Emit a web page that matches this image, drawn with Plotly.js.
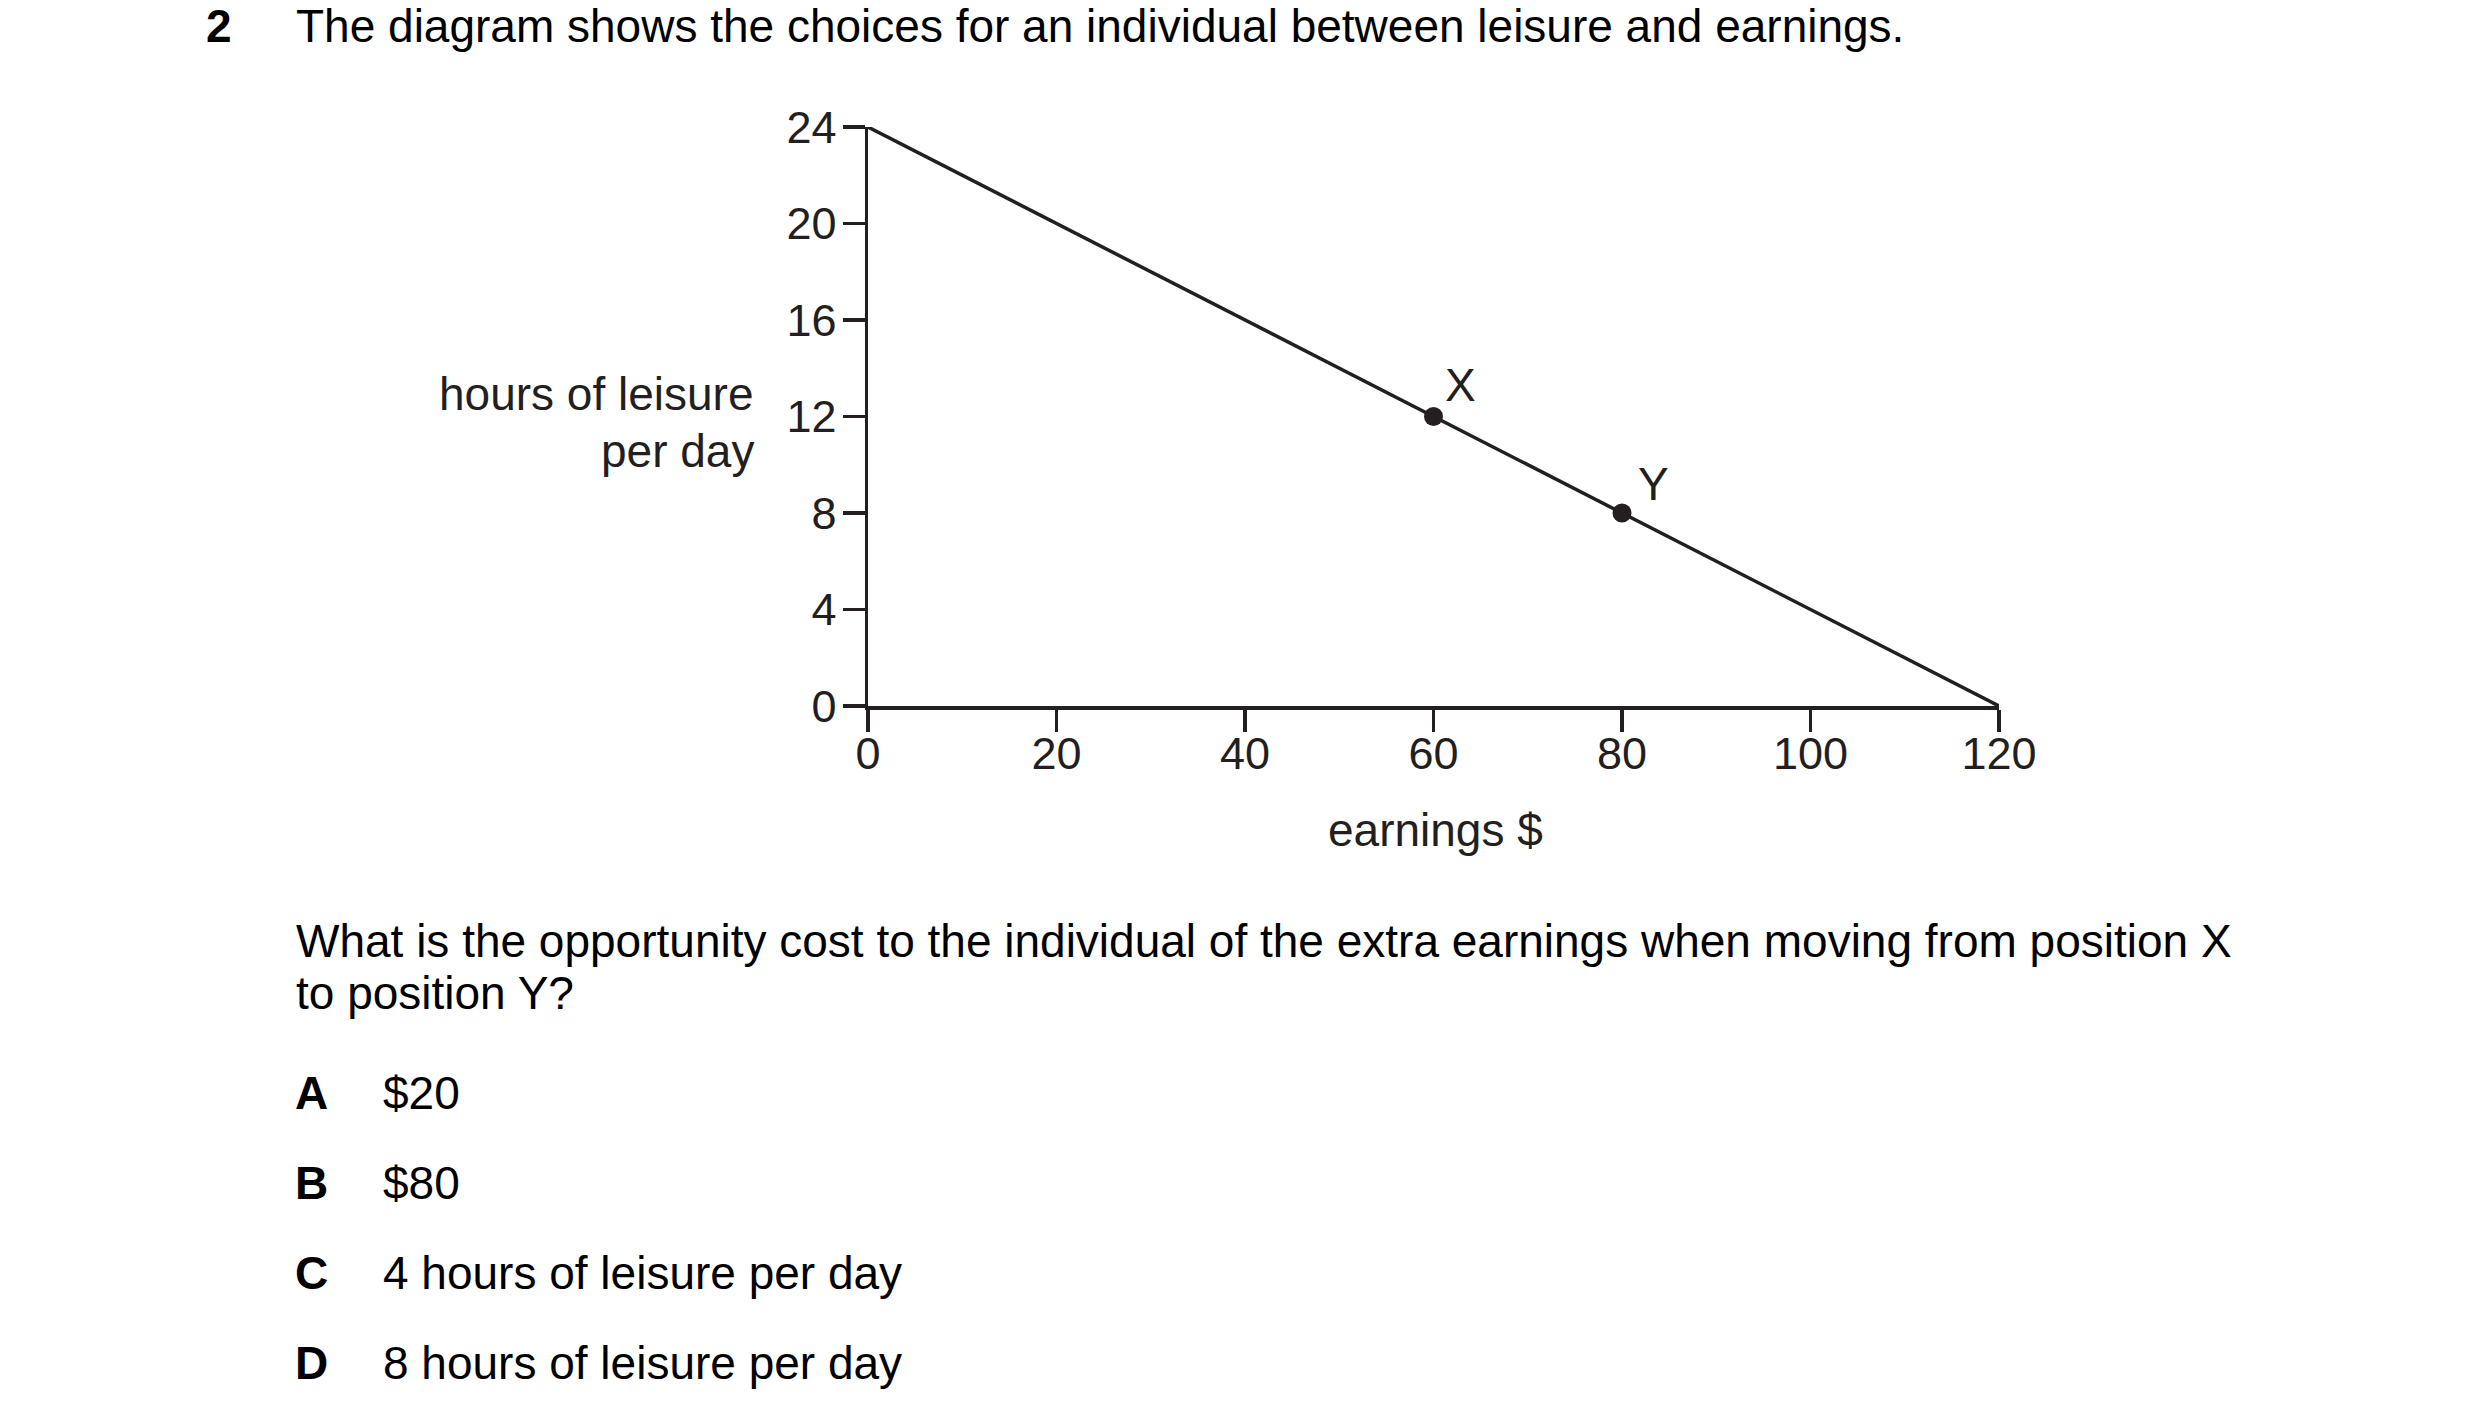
<!DOCTYPE html>
<html>
<head>
<meta charset="utf-8">
<script src="https://cdn.plot.ly/plotly-3.0.1.min.js"></script>
<style>
  html, body { margin: 0; padding: 0; background: #ffffff; }
  #chart { width: 2480px; height: 1428px; }
</style>
</head>
<body>
<div id="chart"></div>
<script>
// ---- data ----
const earnings = [0, 120];          // budget line, x ($)
const leisure = [24, 0];            // budget line, y (hours)
const pointNames = ['X', 'Y'];
const pointEarnings = [60, 80];
const pointLeisure = [12, 8];
const xTickVals = [0, 20, 40, 60, 80, 100, 120];
const yTickVals = [0, 4, 8, 12, 16, 20, 24];
const xAxisTitle = 'earnings $';
const yAxisTitleLines = ['hours of leisure', 'per day'];
const questionNumber = '2';
const introText = 'The diagram shows the choices for an individual between leisure and earnings.';
const questionLines = [
  'What is the opportunity cost to the individual of the extra earnings when moving from position X',
  'to position Y?'
];
const optionLetters = ['A', 'B', 'C', 'D'];
const optionTexts = ['$20', '$80', '4 hours of leisure per day', '8 hours of leisure per day'];

// ---- layout helpers ----
const W = 2480, H = 1428;
const L = 868, R = 1999, T = 127, B = 706;
const ink = '#231f20';
const fontFamily = '"Liberation Sans", Arial, Helvetica, sans-serif';
const fs = 46;
const tickFs = 45;

function pageText(text, px, py, xanchor, opts) {
  opts = opts || {};
  return {
    xref: 'paper', yref: 'paper',
    x: 0, y: 1,
    xshift: px - L,
    yshift: T - py,
    xanchor: xanchor, yanchor: 'middle',
    text: text, showarrow: false,
    font: { family: fontFamily, size: opts.size || fs, color: opts.color || '#000000' }
  };
}

const annotations = [];
// question header
annotations.push(pageText('<b>' + questionNumber + '</b>', 204, 26, 'left'));
annotations.push(pageText(introText, 294, 26, 'left'));
// y axis title (horizontal, right aligned)
annotations.push(pageText(yAxisTitleLines[0], 756, 394, 'right', {color: ink}));
annotations.push(pageText(yAxisTitleLines[1], 756, 451, 'right', {color: ink}));
// x axis title
annotations.push(pageText(xAxisTitle, 1435, 830, 'center', {color: ink}));
// question
annotations.push(pageText(questionLines[0], 294, 941, 'left'));
annotations.push(pageText(questionLines[1], 294, 993, 'left'));
// options
optionLetters.forEach(function (letter, i) {
  const py = 1093 + i * 90;
  annotations.push(pageText('<b>' + letter + '</b>', 293, py, 'left'));
  annotations.push(pageText(optionTexts[i], 381, py, 'left'));
});
// point labels
const labelShift = [[27, 32], [31, 29]];
pointNames.forEach(function (name, i) {
  annotations.push({
    x: pointEarnings[i], y: pointLeisure[i], xref: 'x', yref: 'y',
    text: name, showarrow: false,
    xanchor: 'center', yanchor: 'middle',
    xshift: labelShift[i][0], yshift: labelShift[i][1],
    font: { family: fontFamily, size: fs, color: ink }
  });
});

const traces = [
  {
    x: earnings, y: leisure, type: 'scatter', mode: 'lines',
    line: { color: ink, width: 3.5 }, hoverinfo: 'skip', cliponaxis: false
  },
  {
    x: pointEarnings, y: pointLeisure, type: 'scatter', mode: 'markers',
    marker: { color: ink, size: 19 }, text: pointNames, cliponaxis: false
  }
];

const axisCommon = {
  showgrid: false, zeroline: false, showline: true,
  linecolor: ink, linewidth: 3.5,
  ticks: 'outside', ticklen: 22, tickwidth: 3.5, tickcolor: ink,
  tickfont: { family: fontFamily, size: tickFs, color: ink },
  fixedrange: true
};

const layout = {
  width: W, height: H,
  margin: { l: L, r: W - R, t: T, b: H - B, pad: 0 },
  paper_bgcolor: '#ffffff', plot_bgcolor: '#ffffff',
  showlegend: false,
  xaxis: Object.assign({}, axisCommon, {
    range: [0, 120], tickmode: 'array', tickvals: xTickVals,
    ticktext: xTickVals.map(String), automargin: false,
    ticklabelstandoff: -17
  }),
  yaxis: Object.assign({}, axisCommon, {
    range: [0, 24], tickmode: 'array', tickvals: yTickVals,
    ticktext: yTickVals.map(String), automargin: false,
    ticklabelstandoff: -3
  }),
  annotations: annotations
};

Plotly.newPlot('chart', traces, layout, { staticPlot: true, displayModeBar: false });
</script>
</body>
</html>
